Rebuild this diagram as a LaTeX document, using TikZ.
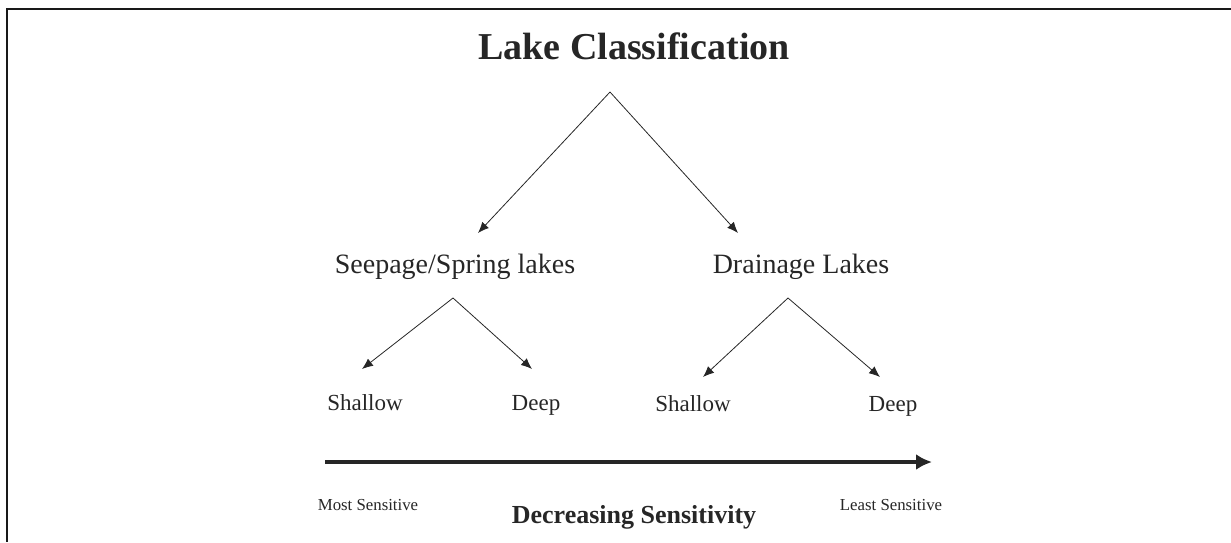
\documentclass[tikz,border=0pt]{standalone}
\usepackage{fontspec}
\setmainfont{Liberation Serif}
\usetikzlibrary{positioning,arrows.meta}

\begin{document}
\begin{tikzpicture}[
  x=1pt, y=-1pt,
  txt/.style={inner sep=0pt, anchor=base, text=black!85},
  titletxt/.style={txt, font=\fontsize{38}{40}\selectfont\bfseries},
  grouptxt/.style={txt, font=\fontsize{28}{30}\selectfont},
  depthtxt/.style={txt, font=\fontsize{23}{25}\selectfont},
  endtxt/.style={txt, font=\fontsize{16.8}{18}\selectfont},
  axistxt/.style={txt, font=\fontsize{26}{28}\selectfont\bfseries},
  splitarr/.style={-{Latex[length=11pt,width=9pt]}, line width=0.8pt, draw=black!85},
  bigarr/.style={-{Latex[length=16pt,width=16pt]}, line width=3.4pt, draw=black!85},
  frameline/.style={line width=2pt, draw=black!90},
]
\useasboundingbox (0,0) rectangle (1231,542);
% frame (only top and left edges show)
\draw[frameline] (1231,9) -| (7,542);

%====================== LABELS ======================
\node[titletxt] (title) at (634,59) {Lake Classification};
\node[grouptxt] (seep)  at (455,273) {Seepage/Spring lakes};
\node[grouptxt] (drain) at (801,273) {Drainage Lakes};
\node[depthtxt] (sshal) at (365,410) {Shallow};
\node[depthtxt] (sdeep) at (536,410) {Deep};
\node[depthtxt] (dshal) at (693,411) {Shallow};
\node[depthtxt] (ddeep) at (893,411) {Deep};

%====================== SPLITS ======================
\coordinate (topsplit)   at (610,92);
\coordinate (seepsplit)  at (453,298);
\coordinate (drainsplit) at (788,298);
\coordinate (toseep)  at (478,233);
\coordinate (todrain) at (738,233);
\coordinate (tosshal) at (362,369);
\coordinate (tosdeep) at (532,369);
\coordinate (todshal) at (703,377);
\coordinate (toddeep) at (880,377);
\draw[splitarr] (topsplit) -- (toseep);
\draw[splitarr] (topsplit) -- (todrain);
\draw[splitarr] (seepsplit) -- (tosshal);
\draw[splitarr] (seepsplit) -- (tosdeep);
\draw[splitarr] (drainsplit) -- (todshal);
\draw[splitarr] (drainsplit) -- (toddeep);

%====================== SENSITIVITY AXIS ======================
\coordinate (axstart) at (325,462);
\coordinate (axend)   at (932,462);
\draw[bigarr] (axstart) -- (axend);
\node[endtxt]  (most)  at (368,510) {Most Sensitive};
\node[endtxt]  (least) at (891,510) {Least Sensitive};
\node[axistxt] (decr)  at (634,523) {Decreasing Sensitivity};
\end{tikzpicture}
\end{document}
